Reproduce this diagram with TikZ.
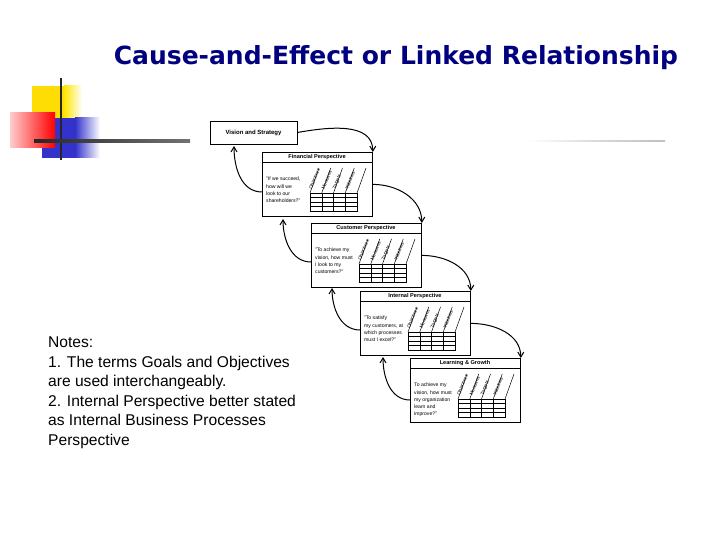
\documentclass[tikz,border=0pt]{standalone}
\usepackage{fontspec}
\setmainfont{Liberation Sans}
\newfontfamily\titlefont{DejaVu Sans}
\usetikzlibrary{arrows.meta}
\tikzset{
  pbox/.style={draw,line width=0.8pt,fill=white},
  flow/.style={line width=1pt,-{Straight Barb[length=5pt,width=6pt]}},
  tiny/.style={font=\fontsize{5.1}{7.2}\selectfont,align=left,anchor=north west,inner sep=0pt},
  hdr/.style={font=\fontsize{4.6}{4.6}\selectfont,rotate=68,anchor=south west,inner sep=0.3pt}
}
\newcommand{\mypanel}[5]{%
  \begin{scope}[shift={(#2,#3)}]
    \node[pbox,minimum width=110pt,minimum height=64pt,anchor=north west,inner sep=0pt] (#1) at (0,0) {};
    \draw[line width=0.7pt] (0,10) -- (110,10);
    \node[font=\bfseries\fontsize{5.6}{6}\selectfont,inner sep=0pt] at (55,5.2) {#4};
    \node[tiny] at (4,25) {#5};
    \draw[line width=0.7pt] (48,41) rectangle (95,59);
    \foreach \i in {1,2,3} \draw[line width=0.5pt] (48+11.75*\i,41) -- (48+11.75*\i,59);
    \foreach \j in {1,2,3} \draw[line width=0.5pt] (48,41+4.5*\j) -- (95,41+4.5*\j);
    \foreach \i in {0,...,4} \draw[line width=0.5pt] (48+11.75*\i,41) -- (57+11.75*\i,16);
    \foreach \i/\t in {0/Objectives,1/Measures,2/Targets,3/Initiatives}
      \node[hdr] at (51+11.75*\i,38.5) {\t};
  \end{scope}}
\begin{document}
\begin{tikzpicture}[x=1pt,y=-1pt]
\useasboundingbox[fill=white] (0,0) rectangle (720,540);
% decoration
\fill[yellow!80!orange] (32,86) rectangle (64,118);
\shade[left color=yellow!80!orange,right color=white] (64,86) rectangle (82,118);
\fill[blue!75!black!80] (42,118) rectangle (75,158);
\shade[left color=blue!75!black!80,right color=white] (75,118) rectangle (100,158);
\shade[left color=red!20,right color=red] (10,113) rectangle (55,148);
\draw[line width=2pt,black!85] (61,78) -- (61,160);
\shade[left color=black!85,right color=black!55] (34,140) rectangle (190,142.5);
\shade[left color=white,right color=black!25,middle color=black!15] (528,140.5) rectangle (665,142);
% title
\node[font=\titlefont\bfseries\fontsize{25}{27}\selectfont,text=blue!50!black] (title) at (396,58) {Cause-and-Effect or Linked Relationship};
% vision box
\node[pbox,minimum width=87pt,minimum height=23pt,inner sep=0pt,font=\bfseries\fontsize{6}{7}\selectfont] (vis) at (253.5,132.5) {Vision and Strategy};
\mypanel{fin}{262}{152}{Financial Perspective}{"If we succeed,\\how will we\\look to our\\shareholders?"}
\mypanel{cus}{311}{223}{Customer Perspective}{"To achieve my\\vision, how must\\I look to my\\customers?"}
\mypanel{int}{360}{291}{Internal Perspective}{"To satisfy\\my customers, at\\which processes\\must I excel?"}
\mypanel{lrn}{410}{358}{Learning \& Growth}{To achieve my\\vision, how must\\my organization\\learn and\\improve?"}
% forward arrows
\draw[flow] (vis.east) to[out=10,in=90] (fin.north east);
\draw[flow] (fin.east) to[out=0,in=90] (cus.north east);
\draw[flow] (cus.east) to[out=0,in=90] (int.north east);
\draw[flow] (int.east) to[out=0,in=90] (lrn.north east);
% back arrows
\coordinate (v1) at (234,146);
\coordinate (f1) at (283,219);
\coordinate (c1) at (332,288);
\coordinate (i1) at (383,357);
\draw[flow] (fin.west |- 0,192) to[out=180,in=-90] (v1);
\draw[flow] (cus.west |- 0,262) to[out=180,in=-90] (f1);
\draw[flow] (int.west |- 0,330) to[out=180,in=-90] (c1);
\draw[flow] (lrn.west |- 0,400) to[out=180,in=-90] (i1);
% notes
\node[font=\fontsize{15.6}{19.5}\selectfont,align=left,anchor=north west,inner sep=0pt] (notes) at (48,337) {Notes:\\1. The terms Goals and Objectives\\are used interchangeably.\\2. Internal Perspective better stated\\as Internal Business Processes\\Perspective};
\end{tikzpicture}
\end{document}
